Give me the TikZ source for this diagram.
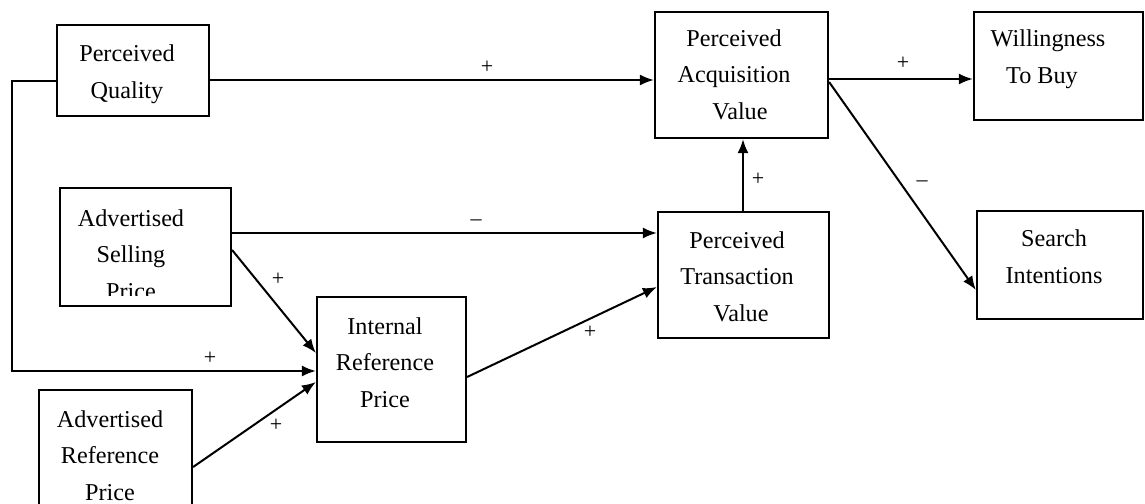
\documentclass[tikz,border=0pt]{standalone}
\usepackage{fontspec}
\setmainfont{Liberation Serif}
\usetikzlibrary{arrows.meta,fit}

\begin{document}
\begin{tikzpicture}[
  x=0.5pt, y=-0.5pt,
  box/.style={draw, line width=1.1pt, inner sep=0pt},
  % anchor=base sits on the baseline of the last line
  boxtext/.style={anchor=base, align=center, inner sep=0pt,
    font=\fontsize{12.1pt}{18.2pt}\selectfont},
  arr/.style={line width=1pt, -{Latex[length=7pt,width=5.5pt]}},
  sign/.style={inner sep=0pt, font=\fontsize{11pt}{13pt}\selectfont}
]
\useasboundingbox (0,0) rectangle (1145,503);

% boxes
\node[box, fit={(57,25) (209,116)}]   (pq)  {};
\node[box, fit={(60,188) (231,306)}]  (asp) {};
\node[box, fit={(39,390) (192,530)}]  (arp) {};
\node[box, fit={(317,297) (466,442)}] (irp) {};
\node[box, fit={(655,12) (828,138)}]  (pav) {};
\node[box, fit={(658,212) (829,338)}] (ptv) {};
\node[box, fit={(974,12) (1143,120)}] (wtb) {};
\node[box, fit={(977,211) (1143,319)}] (si) {};

% box texts
\node[boxtext] (pqt)  at (127,98)  {Perceived\\Quality};
\begin{scope}
  \clip (60,188) rectangle (231,295);
  \node[boxtext] (aspt) at (131,299) {Advertised\\Selling\hspace*{3pt}\\Price};
\end{scope}
\node[boxtext] (arpt) at (110,500) {Advertised\\Reference\\Price};
\node[boxtext] (irpt) at (385,407) {Internal\\Reference\\Price};
\node[boxtext] (pavt) at (734,119) {Perceived\\Acquisition\hspace*{5pt}\\\hspace*{6pt}Value};
\node[boxtext] (ptvt) at (737,321) {Perceived\\Transaction\\\hspace*{4pt}Value};
\node[boxtext] (wtbt) at (1045,83) {\hspace*{3pt}Willingness\\To Buy\hspace*{3pt}};
\node[boxtext] (sit)  at (1054,283) {Search\\Intentions};

% connectors
\draw[arr] (pq.east |- 0,80) -- (pav.west |- 0,80);
\draw[arr] (pq.west |- 0,81) -| (12,371) -- (irp.west |- 0,371);
\draw[arr] (asp.east |- 0,233) -- (ptv.west |- 0,233);
\draw[arr] (asp.east |- 0,250) -- (irp.west |- 0,353);
\draw[arr] (arp.east |- 0,467) -- (irp.west |- 0,382);
\draw[arr] (irp.east |- 0,377) -- (ptv.west |- 0,287);
\draw[arr] (ptv.north -| 743,0) -- (pav.south -| 743,0);
\draw[arr] (pav.east |- 0,79) -- (wtb.west |- 0,79);
\draw[arr] (pav.east |- 0,82) -- (si.west |- 0,290);

% signs
\node[sign] (s1) at (487,67)  {+};
\node[sign] (s2) at (210,358) {+};
\node[sign] (s3) at (476,223) {–};
\node[sign] (s4) at (278,279) {+};
\node[sign] (s5) at (276,425) {+};
\node[sign] (s6) at (590,332) {+};
\node[sign] (s7) at (758,179) {+};
\node[sign] (s8) at (903,63)  {+};
\node[sign] (s9) at (922,184) {–};
\end{tikzpicture}
\end{document}
